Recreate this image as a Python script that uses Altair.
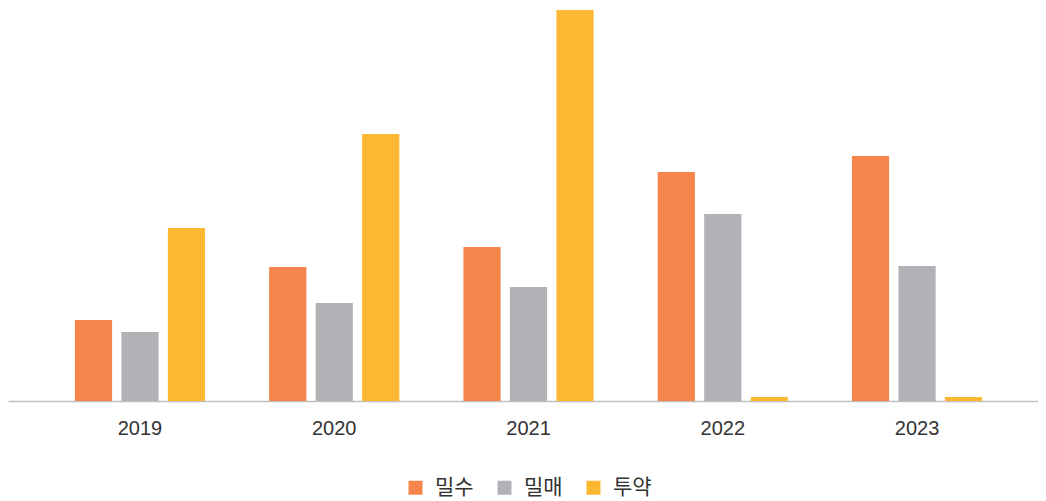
import altair as alt
import pandas as pd

years = ["2019", "2020", "2021", "2022", "2023"]
series = ["밀수", "밀매", "투약"]
smuggling = [81, 134, 154, 229, 245]
trafficking = [69, 98, 114, 187, 135]
use = [173, 267, 391, 4, 4]
colors = ["#F5854A", "#B1B2B5", "#FDB833"]

rows = []
for i, y in enumerate(years):
    for s, vals in zip(series, [smuggling, trafficking, use]):
        rows.append({"year": y, "series": s, "value": vals[i]})
df = pd.DataFrame(rows)

chart = (
    alt.Chart(df)
    .mark_bar()
    .encode(
        x=alt.X(
            "year:N",
            sort=years,
            scale=alt.Scale(paddingInner=0, paddingOuter=0.151, align=0.594),
            axis=alt.Axis(
                title=None,
                labelAngle=0,
                ticks=False,
                domainColor="#C0C0C0",
                domainWidth=1.5,
                labelFont="Liberation Sans",
                labelFontSize=20,
                labelColor="#333333",
                labelPadding=17,
            ),
        ),
        xOffset=alt.XOffset(
            "series:N",
            sort=series,
            scale=alt.Scale(paddingInner=0.2, paddingOuter=0.689),
        ),
        y=alt.Y(
            "value:Q",
            scale=alt.Scale(domain=[0, 393], nice=False),
            axis=None,
        ),
        color=alt.Color(
            "series:N",
            sort=series,
            scale=alt.Scale(domain=series, range=colors),
            legend=alt.Legend(
                title=None,
                orient="none",
                direction="horizontal",
                legendX=397,
                legendY=469,
                symbolType="square",
                symbolSize=196,
                symbolStrokeWidth=0,
                symbolOpacity=1,
                labelFont="Noto Sans CJK KR",
                labelFontSize=21,
                labelColor="#333333",
                labelOffset=9,
                columnPadding=20,
                padding=0,
            ),
        ),
    )
    .properties(
        width=1030,
        height=393,
        padding={"left": 0, "top": 0, "right": 0, "bottom": 8},
    )
    .configure_view(stroke=None)
)

chart.save("out.html", embed_options={"renderer": "svg", "actions": False})
